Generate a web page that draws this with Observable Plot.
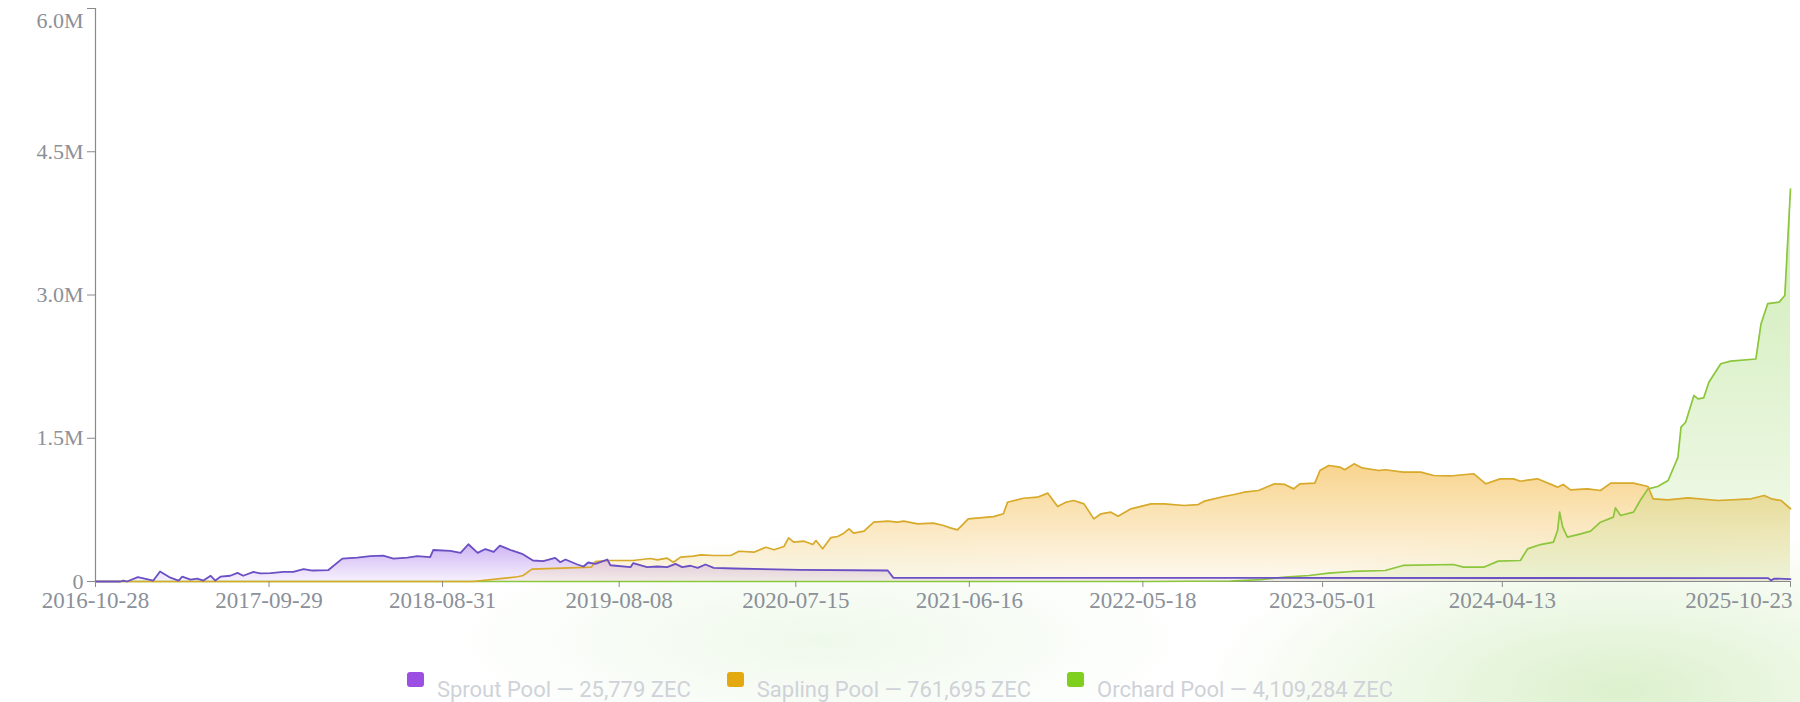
<!DOCTYPE html>
<html>
<head>
<meta charset="utf-8">
<script src="https://cdn.jsdelivr.net/npm/d3@7"></script>
<script src="https://cdn.jsdelivr.net/npm/@observablehq/plot@0.6"></script>
<style>
  html, body { margin: 0; padding: 0; background: #ffffff; }
  body { width: 1800px; height: 702px; overflow: hidden; position: relative; }
  #bg {
    position: absolute; left: 0; top: 0; width: 1800px; height: 702px;
    background:
      radial-gradient(ellipse 420px 170px at 1620px 690px, rgba(214, 238, 196, 0.85), rgba(214, 238, 196, 0) 100%),
      radial-gradient(ellipse 380px 110px at 820px 640px, rgba(232, 246, 226, 0.7), rgba(232, 246, 226, 0) 100%);
  }
  #chart { position: absolute; left: 0; top: 0; }
  #legend {
    position: absolute; top: 672px; left: 0; width: 1800px;
    display: flex; justify-content: center; align-items: flex-start;
    font-family: Roboto, "Noto Sans", sans-serif; font-size: 22px; color: #cfd2d8;
  }
  .item { display: flex; align-items: flex-start; margin: 0 18px; }
  .sw { width: 17px; height: 15px; border-radius: 3px; margin-right: 13px; flex: none; }
  .lbl { line-height: 22px; margin-top: 7px; white-space: nowrap; }
</style>
</head>
<body>
<div id="bg"></div>
<div id="chart"></div>
<div id="legend"></div>
<script>
// ---------- data (ZEC held in each shielded pool) ----------
const sproutDates = ["2016-10-28","2016-12-15","2016-12-21","2016-12-28","2017-01-18","2017-02-17","2017-03-02","2017-03-22","2017-04-07","2017-04-14","2017-04-30","2017-05-13","2017-05-25","2017-06-08","2017-06-17","2017-06-27","2017-07-16","2017-07-30","2017-08-10","2017-08-30","2017-09-12","2017-10-02","2017-10-27","2017-11-15","2017-12-05","2017-12-22","2018-01-22","2018-02-18","2018-03-19","2018-04-13","2018-05-08","2018-05-28","2018-06-24","2018-07-13","2018-08-07","2018-08-13","2018-09-15","2018-10-05","2018-10-20","2018-11-07","2018-11-22","2018-12-08","2018-12-20","2019-01-12","2019-02-01","2019-02-22","2019-03-14","2019-04-06","2019-04-16","2019-04-26","2019-05-19","2019-05-31","2019-06-09","2019-06-23","2019-07-16","2019-07-22","2019-08-30","2019-09-04","2019-10-01","2019-10-21","2019-11-09","2019-11-25","2019-12-08","2019-12-24","2020-01-07","2020-01-22","2020-02-07","2020-03-17","2020-07-24","2021-01-09","2021-01-20","2025-09-10","2025-09-15","2025-09-22","2025-10-23"];
const sproutValues = [0,0,10000,0,45000,10000,105000,40000,10000,50000,20000,30000,10000,60000,10000,50000,60000,90000,60000,100000,85000,87000,100000,100000,130000,115000,120000,240000,250000,265000,270000,240000,250000,265000,255000,330000,320000,300000,390000,300000,340000,310000,375000,325000,290000,220000,213000,248000,202000,230000,178000,157000,199000,185000,230000,170000,150000,192000,150000,157000,150000,185000,150000,165000,143000,178000,143000,136000,122000,115000,38000,36000,12000,30000,25779];

const saplingDates = ["2016-10-28","2018-10-28","2018-12-21","2019-01-23","2019-02-03","2019-02-20","2019-06-15","2019-06-23","2019-07-16","2019-09-04","2019-10-07","2019-10-21","2019-11-09","2019-11-21","2019-12-05","2019-12-30","2020-01-13","2020-02-07","2020-03-11","2020-03-27","2020-04-25","2020-05-18","2020-06-03","2020-06-22","2020-07-01","2020-07-11","2020-07-31","2020-08-17","2020-08-23","2020-09-05","2020-09-21","2020-10-04","2020-10-16","2020-10-26","2020-11-04","2020-11-24","2020-12-13","2021-01-09","2021-01-28","2021-02-09","2021-03-08","2021-04-07","2021-04-27","2021-05-10","2021-05-24","2021-06-14","2021-08-02","2021-08-21","2021-08-29","2021-09-29","2021-10-26","2021-11-15","2021-12-04","2021-12-20","2022-01-04","2022-01-24","2022-02-12","2022-02-26","2022-03-17","2022-03-31","2022-04-25","2022-06-03","2022-06-28","2022-08-06","2022-09-02","2022-09-14","2022-10-22","2022-11-11","2022-11-30","2022-12-28","2023-01-28","2023-02-17","2023-03-06","2023-03-18","2023-04-16","2023-04-26","2023-05-13","2023-06-04","2023-06-13","2023-07-01","2023-07-16","2023-08-18","2023-08-30","2023-10-04","2023-11-07","2023-12-02","2024-01-03","2024-02-18","2024-03-12","2024-04-09","2024-05-05","2024-05-18","2024-06-20","2024-07-29","2024-08-09","2024-08-23","2024-09-25","2024-10-20","2024-11-09","2024-12-23","2025-01-20","2025-01-30","2025-02-28","2025-04-08","2025-06-05","2025-08-08","2025-09-02","2025-09-16","2025-10-05","2025-10-23"];
const saplingValues = [0,0,30000,50000,63000,129000,150000,209000,220000,220000,241000,227000,244000,202000,255000,265000,279000,272000,272000,317000,307000,359000,332000,366000,457000,412000,422000,387000,429000,342000,460000,471000,506000,552000,506000,527000,621000,632000,621000,632000,604000,611000,586000,562000,541000,656000,680000,709000,830000,872000,883000,925000,785000,830000,848000,813000,656000,709000,726000,684000,761000,813000,813000,796000,806000,841000,890000,911000,935000,953000,1023000,1016000,970000,1023000,1030000,1162000,1215000,1197000,1170000,1232000,1190000,1162000,1170000,1145000,1145000,1110000,1105000,1128000,1023000,1075000,1075000,1050000,1075000,988000,1016000,960000,970000,953000,1030000,1030000,995000,866000,855000,876000,848000,866000,900000,866000,848000,761695];

const orchardDates = ["2016-10-28","2022-05-31","2022-11-04","2023-01-01","2023-02-17","2023-04-05","2023-05-13","2023-06-27","2023-08-30","2023-10-04","2024-01-09","2024-01-29","2024-03-08","2024-04-05","2024-05-18","2024-06-01","2024-06-26","2024-07-21","2024-07-29","2024-08-02","2024-08-08","2024-08-17","2024-09-12","2024-10-01","2024-10-20","2024-11-14","2024-11-18","2024-11-28","2024-12-23","2025-01-05","2025-01-20","2025-02-08","2025-02-28","2025-03-19","2025-03-25","2025-04-03","2025-04-19","2025-04-27","2025-05-08","2025-05-18","2025-06-10","2025-06-29","2025-08-17","2025-08-27","2025-09-09","2025-10-01","2025-10-12","2025-10-23"];
const orchardValues = [0,0,5000,20000,45000,63000,87000,105000,115000,168000,178000,150000,150000,213000,220000,342000,387000,412000,534000,726000,569000,464000,499000,527000,621000,674000,772000,691000,726000,848000,970000,995000,1058000,1300000,1616000,1668000,1948000,1913000,1923000,2087000,2280000,2307000,2330000,2700000,2910000,2925000,2995000,4109284];

const xTickLabels = ["2016-10-28","2017-09-29","2018-08-31","2019-08-08","2020-07-15","2021-06-16","2022-05-18","2023-05-01","2024-04-13","2025-10-23"];
const yTickValues = [0, 1500000, 3000000, 4500000, 6000000];

const legendNames = ["Sprout Pool", "Sapling Pool", "Orchard Pool"];
const legendTotals = [25779, 761695, 4109284];
const swatchColors = ["#9b4fe3", "#e3a90f", "#7fcf1e"];

// ---------- build ----------
const parse = d3.utcParse("%Y-%m-%d");
const toRows = (dates, values) => dates.map((d, i) => ({ date: parse(d), value: values[i] }));
const sprout = toRows(sproutDates, sproutValues);
const sapling = toRows(saplingDates, saplingValues);
const orchard = toRows(orchardDates, orchardValues);
const xTicks = xTickLabels.map(parse);
const lastTick = xTicks[xTicks.length - 1];
const dateFmt = d3.utcFormat("%Y-%m-%d");
const yFmt = d => d === 0 ? "0" : (d / 1e6).toFixed(1) + "M";

function defs() {
  const g = d3.create("svg:defs");
  const add = (id, color, o1, o2) => {
    const lg = g.append("linearGradient").attr("id", id)
      .attr("x1", 0).attr("y1", 0).attr("x2", 0).attr("y2", 1);
    lg.append("stop").attr("offset", "0%").attr("stop-color", color).attr("stop-opacity", o1);
    lg.append("stop").attr("offset", "100%").attr("stop-color", color).attr("stop-opacity", o2);
  };
  add("gSprout", "#a673ea", 0.55, 0.1);
  add("gSapling", "#f3b53a", 0.58, 0.08);
  add("gOrchard", "#93d35a", 0.45, 0.1);
  return g.node();
}

const chart = Plot.plot({
  width: 1800,
  height: 640,
  marginTop: 8,
  marginBottom: 59,
  marginLeft: 95,
  marginRight: 10,
  style: {
    fontFamily: "'Liberation Serif', 'DejaVu Serif', serif",
    fontSize: "22px",
    color: "#8b9099",
    background: "transparent",
    overflow: "visible"
  },
  x: { type: "utc", domain: [xTicks[0], lastTick] },
  y: { domain: [0, 6000000] },
  marks: [
    defs,
    Plot.areaY(sprout, { x: "date", y: "value", fill: "url(#gSprout)" }),
    Plot.areaY(sapling, { x: "date", y: "value", fill: "url(#gSapling)" }),
    Plot.areaY(orchard, { x: "date", y: "value", fill: "url(#gOrchard)" }),
    Plot.ruleY([0], { stroke: "#8a8a8a", strokeWidth: 1.2 }),
    Plot.ruleX([xTicks[0]], { stroke: "#8a8a8a", strokeWidth: 1.2 }),
    Plot.lineY(orchard, { x: "date", y: "value", stroke: "#8cc63c", strokeWidth: 1.7 }),
    Plot.lineY(sapling, { x: "date", y: "value", stroke: "#d8aa2c", strokeWidth: 1.7 }),
    Plot.lineY(sprout, { x: "date", y: "value", stroke: "#6a50c4", strokeWidth: 1.8 }),
    Plot.axisX({ ticks: xTicks, tickFormat: d => +d === +lastTick ? "" : dateFmt(d), tickSize: 6, tickPadding: 4, label: null, stroke: "#8a8a8a", fontSize: 23 }),
    Plot.text([lastTick], { x: d => d, text: d => dateFmt(d), frameAnchor: "bottom", textAnchor: "end", lineAnchor: "top", dy: 10, dx: 2, fontSize: 23 }),
    Plot.axisY({ ticks: yTickValues, tickFormat: d => d === 6000000 ? "" : yFmt(d), tickSize: 8, tickPadding: 4, label: null, stroke: "#8a8a8a" }),
    Plot.text([6000000], { y: d => d, text: d => yFmt(d), frameAnchor: "left", textAnchor: "end", dx: -12, dy: 12 })
  ]
});
document.getElementById("chart").appendChild(chart);

const legend = document.getElementById("legend");
legendNames.forEach((name, i) => {
  const item = document.createElement("div");
  item.className = "item";
  const sw = document.createElement("div");
  sw.className = "sw";
  sw.style.background = swatchColors[i];
  const lbl = document.createElement("div");
  lbl.className = "lbl";
  lbl.textContent = `${name} — ${d3.format(",")(legendTotals[i])} ZEC`;
  item.appendChild(sw);
  item.appendChild(lbl);
  legend.appendChild(item);
});
</script>
</body>
</html>
